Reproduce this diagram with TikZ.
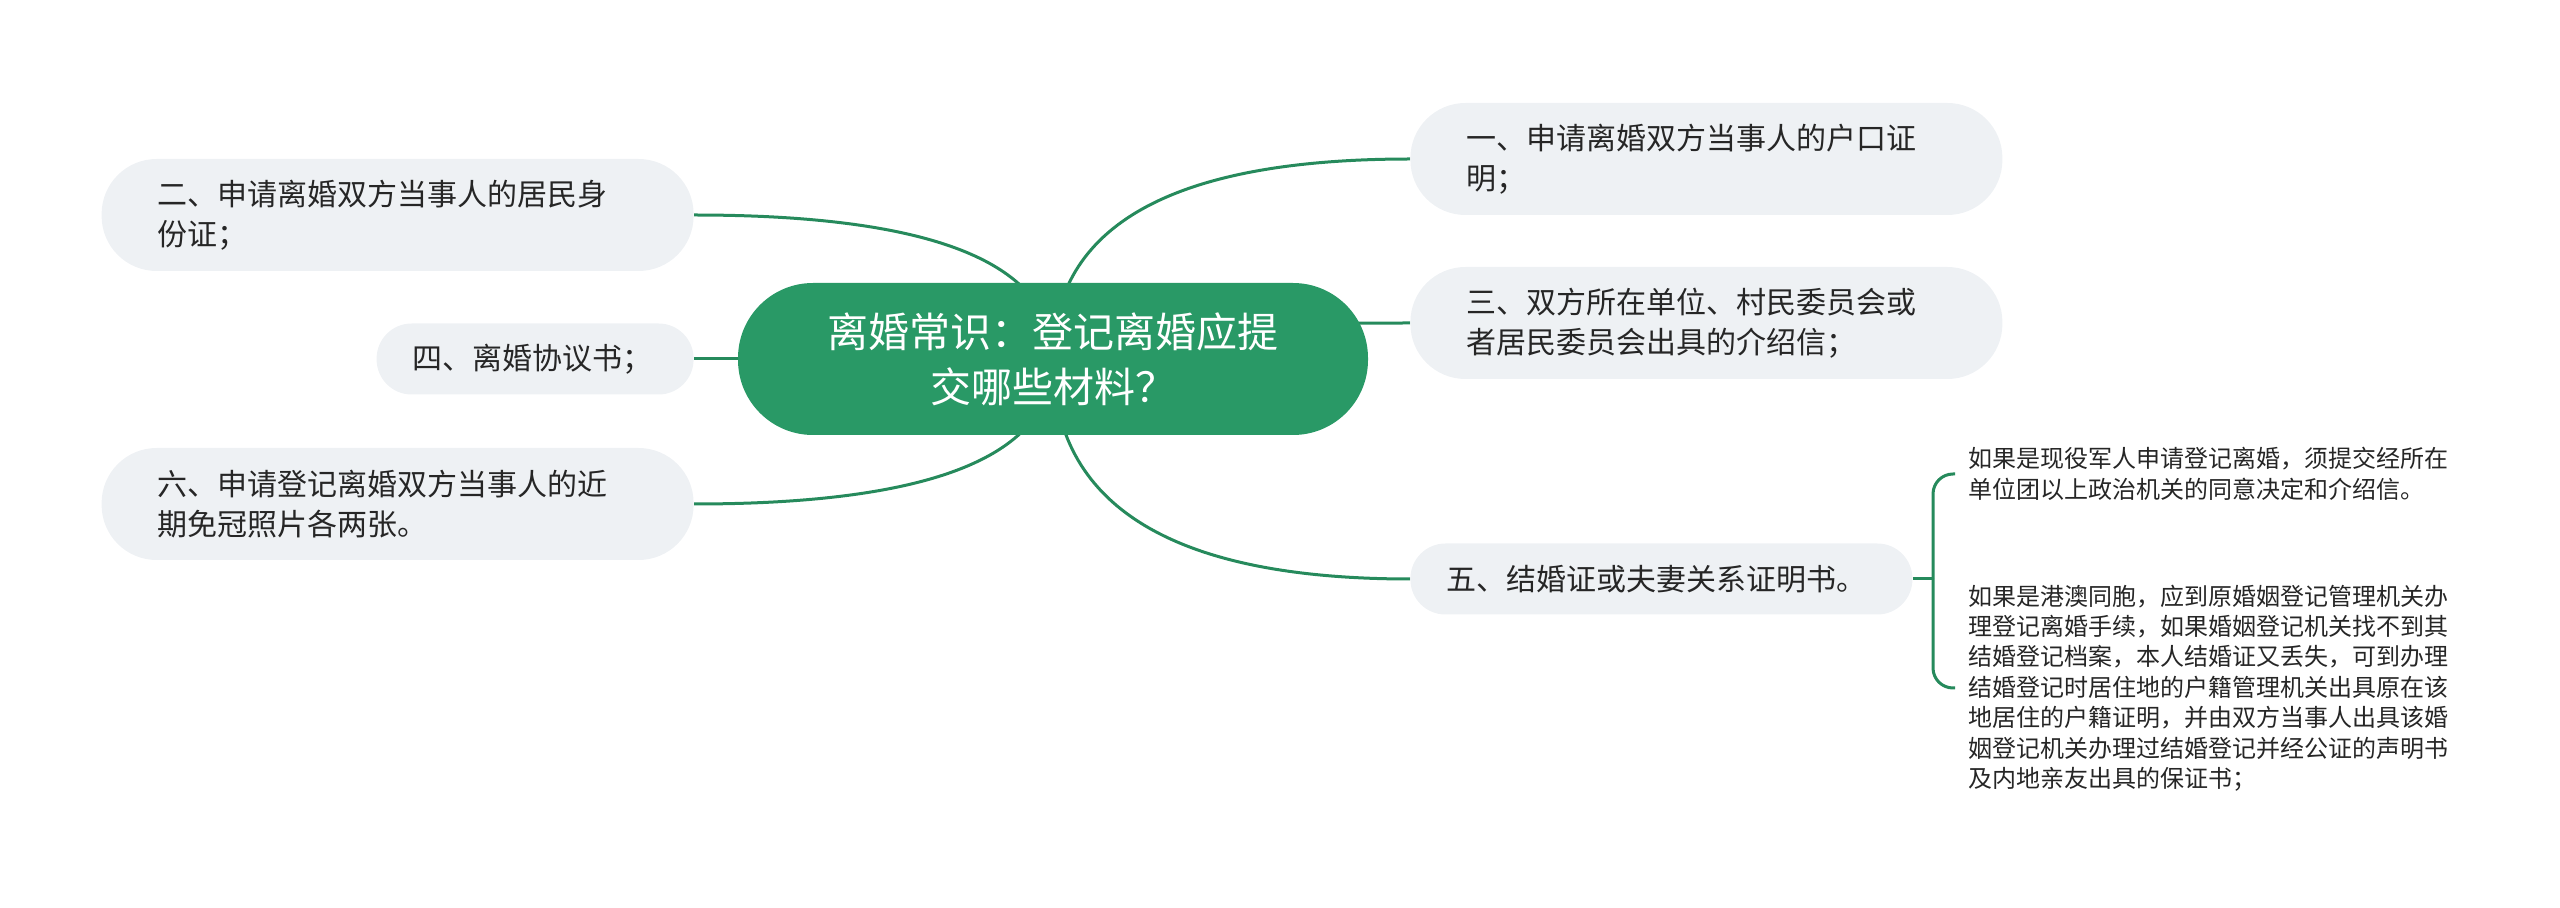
\documentclass[tikz,border=0pt]{standalone}
\usepackage{fontspec}
\setmainfont{Noto Sans CJK SC}
\usetikzlibrary{calc,backgrounds}
\definecolor{rootgreen}{RGB}{41,153,102}
\definecolor{linegreen}{RGB}{38,138,92}
\definecolor{boxgray}{RGB}{238,241,244}
\definecolor{textdark}{RGB}{38,38,38}
\tikzset{
    topic/.style={fill=boxgray, text=textdark, align=left, inner ysep=0pt,
        font=\fontsize{15pt}{20pt}\selectfont},
    widetopic/.style={topic, text width=240pt, inner xsep=28pt,
        minimum height=56pt, rounded corners=27.5pt},
    slimtopic/.style={topic, inner xsep=18pt, minimum height=35.5pt,
        rounded corners=17.5pt},
    leaf/.style={text=textdark, align=left, anchor=west, inner xsep=6.5pt,
        text width=242pt, font=\fontsize{12pt}{15.2pt}\selectfont},
    branch/.style={draw=linegreen, line width=1.5pt},
}
\begin{document}
\begin{tikzpicture}[x=0.5pt, y=-0.5pt]
    \useasboundingbox (0, 0) rectangle (2560, 908);
    \node[fill=rootgreen, text=white, align=center, text width=240pt,
        inner sep=0pt, minimum width=315pt, minimum height=76pt,
        rounded corners=37.5pt, font=\fontsize{20.5pt}{27.5pt}\selectfont]
        (root) at (1053, 359) {离婚常识：登记离婚应提\\交哪些材料？};
    % right side
    \node[widetopic, anchor=west] (b1) at (1410, 159)
        {一、申请离婚双方当事人的户口证\\明；};
    \node[widetopic, anchor=west] (b3) at (1410, 323)
        {三、双方所在单位、村民委员会或\\者居民委员会出具的介绍信；};
    \node[slimtopic, anchor=west, text width=215pt] (b5) at (1410, 579)
        {五、结婚证或夫妻关系证明书。};
    % left side
    \node[widetopic, anchor=east] (b2) at (694, 215)
        {二、申请离婚双方当事人的居民身\\份证；};
    \node[slimtopic, anchor=east, text width=122.5pt] (b4) at (694, 359)
        {四、离婚协议书；};
    \node[widetopic, anchor=east] (b6) at (694, 504)
        {六、申请登记离婚双方当事人的近\\期免冠照片各两张。};
    % details of 五
    \node[leaf] (l1) at (1955, 474)
        {如果是现役军人申请登记离婚，须提交经所在\\单位团以上政治机关的同意决定和介绍信。};
    \node[leaf] (l2) at (1955, 688)
        {如果是港澳同胞，应到原婚姻登记管理机关办\\理登记离婚手续，如果婚姻登记机关找不到其\\结婚登记档案，本人结婚证又丢失，可到办理\\结婚登记时居住地的户籍管理机关出具原在该\\地居住的户籍证明，并由双方当事人出具该婚\\姻登记机关办理过结婚登记并经公证的声明书\\及内地亲友出具的保证书；};
    \coordinate (fork) at (1933, 579);
    \begin{scope}[on background layer]
        \foreach \topicname/\topicside in
            {b1/west, b3/west, b5/west, b2/east, b4/east, b6/east}
            \draw[branch] (root.center)
                .. controls ($(root.center)!2/3!(root.center |- \topicname.\topicside)$)
                and ($(\topicname.\topicside)!2/3!(root.center |- \topicname.\topicside)$)
                .. (\topicname.\topicside);
        \draw[branch] (b5.east) -- (fork);
        \draw[branch, rounded corners=10pt] (fork) |- (l1.west);
        \draw[branch, rounded corners=10pt] (fork) |- (l2.west);
    \end{scope}
\end{tikzpicture}
\end{document}
